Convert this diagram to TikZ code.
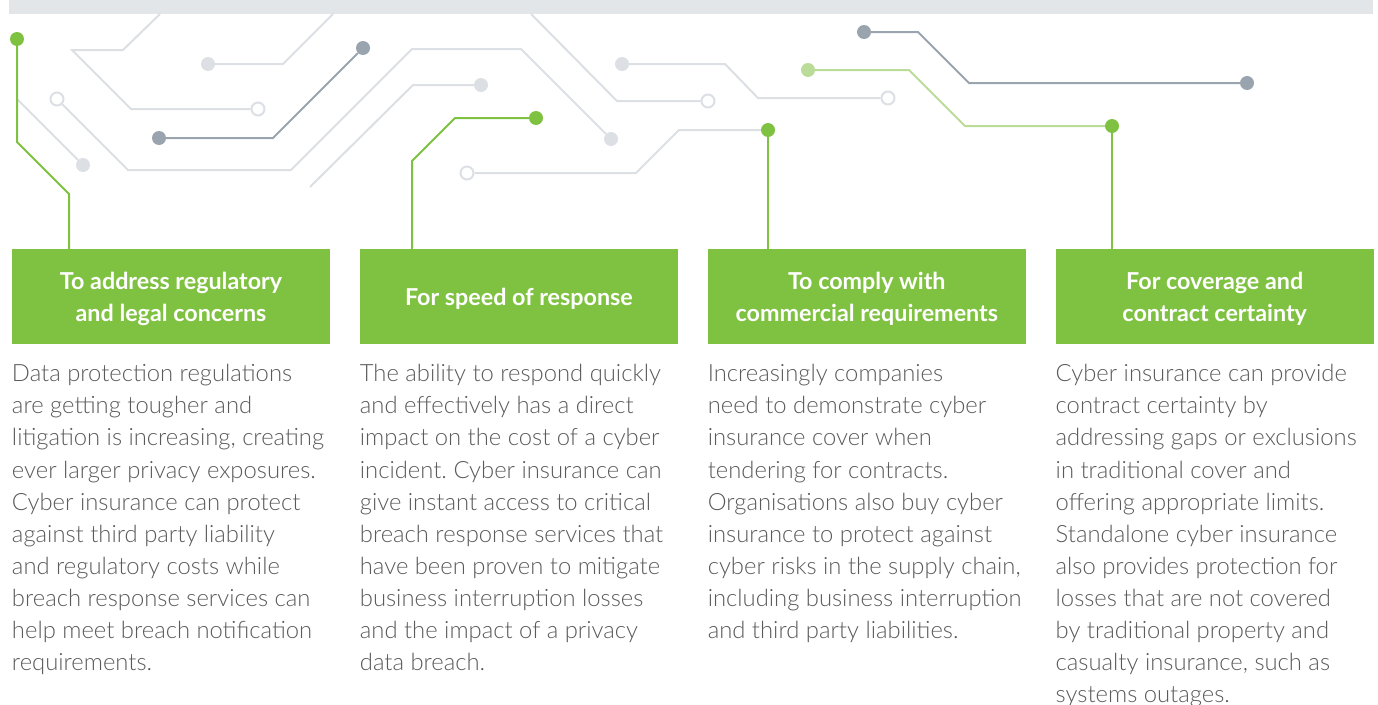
\documentclass[tikz,border=0pt]{standalone}
\usepackage{fontspec}
\setmainfont{Lato}
\newfontfamily\lightfont{Lato Light}
\usetikzlibrary{positioning}
\frenchspacing
\definecolor{leaf}{HTML}{7FC241}
\definecolor{pale}{HTML}{DCDFE4}
\definecolor{slate}{HTML}{9AA4AF}
\definecolor{mint}{HTML}{BBDC98}
\definecolor{bandgray}{HTML}{E3E6E9}
\definecolor{ink}{HTML}{5A5A5A}

\begin{document}
\begin{tikzpicture}[x=1pt,y=-1pt,
	head/.style={fill=leaf,text=white,font=\bfseries\fontsize{23.3}{32}\selectfont,
		align=center,minimum width=318pt,minimum height=95pt,inner sep=0pt,text depth=0pt},
	body/.style={text=ink,font=\lightfont\fontsize{23.8}{32.1}\selectfont,align=left,inner sep=0pt},
	via/.style={circle,inner sep=0pt,minimum size=14pt},
	gdot/.style={via,fill=leaf},
	ldot/.style={via,fill=pale},
	ddot/.style={via,fill=slate},
	mdot/.style={via,fill=mint},
	ring/.style={via,minimum size=13pt,draw=pale,line width=2pt,fill=white},
	wire/.style={line width=2pt,pale},
	dwire/.style={line width=2pt,slate},
	mwire/.style={line width=2pt,mint},
	gwire/.style={line width=2pt,leaf}]
\useasboundingbox (0,0) rectangle (1378,704);
\fill[bandgray] (9,0) rectangle (1373,14);

\node[head] (reg) at (171,296.5) {To address regulatory\\and legal concerns};
\node[head,right=29.5pt of reg] (speed) {For speed of response};
\node[head,right=29.5pt of speed] (comply) {To comply with\\commercial requirements};
\node[head,right=29.5pt of comply] (cover) {For coverage and\\contract certainty};

\node[body,below right=20pt and 0pt of reg.south west] (regtext) {Data protection regulations\\
	are getting tougher and\\litigation is increasing, creating\\ever larger privacy exposures.\\
	Cyber insurance can protect\\against third party liability\\and regulatory costs while\\
	breach response services can\\help meet breach notification\\requirements.};
\node[body,below right=20pt and 0pt of speed.south west] (speedtext) {The ability to respond quickly\\
	and effectively has a direct\\impact on the cost of a cyber\\incident. Cyber insurance can\\
	give instant access to critical\\breach response services that\\have been proven to mitigate\\
	business interruption losses\\and the impact of a privacy\\data breach.};
\node[body,below right=20pt and 0pt of comply.south west] (complytext) {Increasingly companies\\
	need to demonstrate cyber\\insurance cover when\\tendering for contracts.\\
	Organisations also buy cyber\\insurance to protect against\\cyber risks in the supply chain,\\
	including business interruption\\and third party liabilities.};
\node[body,below right=20pt and 0pt of cover.south west] (covertext) {Cyber insurance can provide\\
	contract certainty by\\addressing gaps or exclusions\\in traditional cover and\\
	offering appropriate limits.\\Standalone cyber insurance\\also provides protection for\\
	losses that are not covered\\by traditional property and\\casualty insurance, such as\\
	systems outages.};

\node[gdot] (g1) at (17,39) {};
\node[gdot] (g2) at (536,118) {};
\node[gdot] (g3) at (768,130) {};
\node[gdot] (g4) at (1112,126) {};
\node[ldot] (l1) at (83,165) {};
\node[ldot] (l2) at (611,139) {};
\node[ldot] (l3) at (208,64) {};
\node[ldot] (l4) at (481,85) {};
\node[ldot] (l5) at (622,64) {};
\node[ring] (r1) at (57,99) {};
\node[ring] (r2) at (258,109) {};
\node[ring] (r3) at (708,101) {};
\node[ring] (r4) at (888,98) {};
\node[ring] (r5) at (467,173) {};
\node[ddot] (d1) at (159,138) {};
\node[ddot] (d2) at (363,48) {};
\node[ddot] (d3) at (864,32) {};
\node[ddot] (d4) at (1247,83) {};
\node[mdot] (m1) at (808,70) {};

\coordinate (t1) at (160,14);
\coordinate (t2) at (333,14);
\coordinate (t3) at (531,14);
\coordinate (f1) at (310,187);
\coordinate (k1) at (69,194);
\coordinate (k2) at (412,161);

\draw[wire] (g1 |- r1) -- (l1);
\draw[wire] (r1) -- (128,170) -- (291,170) -- (412,49) -- (521,49) -- (l2);
\draw[wire] (t1) -- (123,50) -- (72,50) -- (131,109) -- (r2);
\draw[wire] (l3) -- (283,64) -- (t2);
\draw[wire] (f1) -- (413,85) -- (l4);
\draw[wire] (t3) -- (617,101) -- (r3);
\draw[wire] (l5) -- (725,64) -- (758,98) -- (r4);
\draw[wire] (r5) -- (636,173) -- (679,130) -- (g3);
\draw[dwire] (d1) -- (273,138) -- (d2);
\draw[dwire] (d3) -- (918,32) -- (969,83) -- (d4);
\draw[mwire] (m1) -- (909,70) -- (965,126) -- (g4);
\draw[gwire] (g1) -- (17,142) -- (k1) -- (reg.north -| k1);
\draw[gwire] (g2) -- (455,118) -- (k2) -- (speed.north -| k2);
\draw[gwire] (g3) -- (comply.north -| g3);
\draw[gwire] (g4) -- (cover.north -| g4);
\end{tikzpicture}
\end{document}
